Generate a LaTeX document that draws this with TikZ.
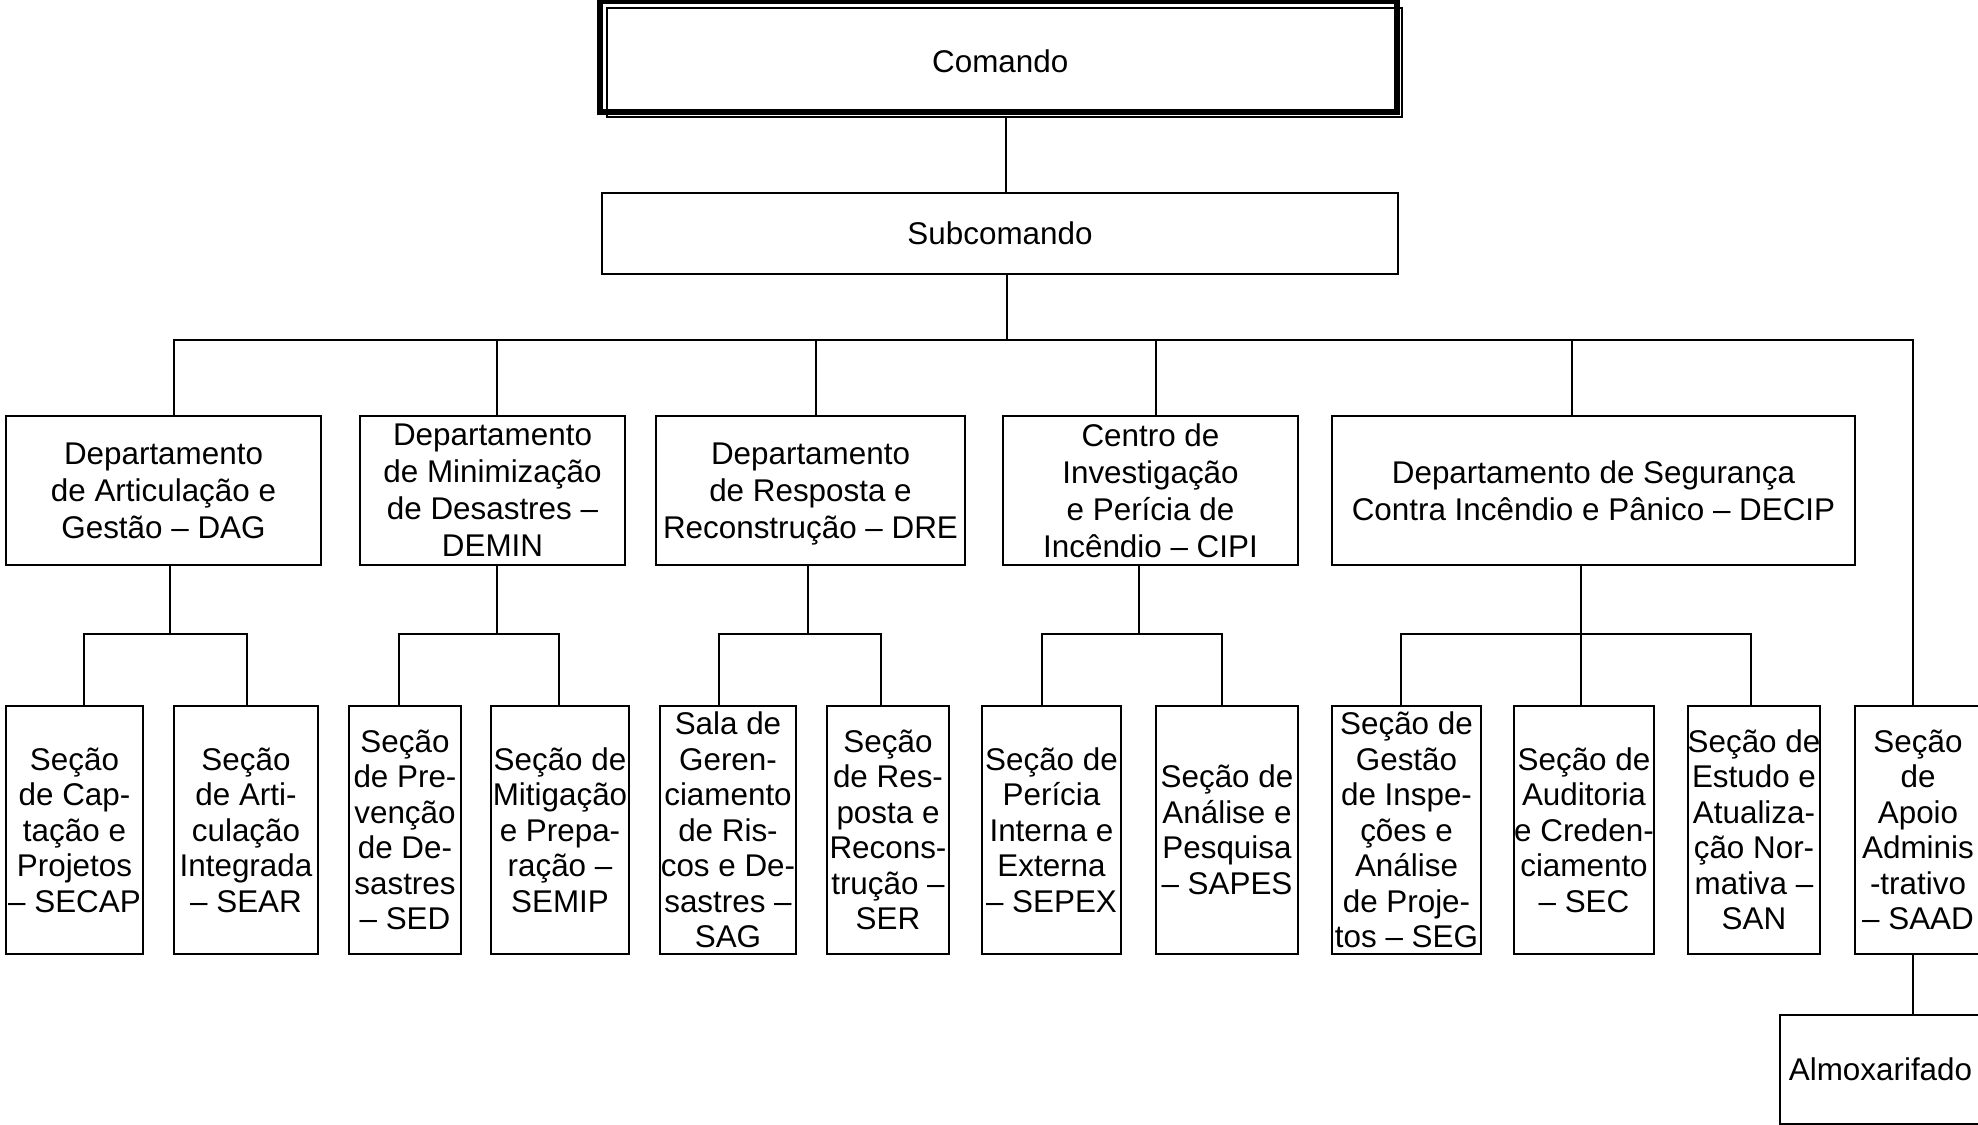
\documentclass[tikz,border=0pt]{standalone}
\usepackage{fontspec}
\setmainfont{Liberation Sans}
\newcommand\bx[7][box]{\node[#1, minimum width={(#5-#3)*0.5pt}, minimum height={(#6-#4)*0.5pt}] (#2) at ({(#3+#5)/2},{(#4+#6)/2}) {#7};}
\newcommand\nodepth[1]{\raisebox{0pt}[\height][0pt]{#1}}
\begin{document}
\begin{tikzpicture}[x=0.5pt,y=-0.5pt,
  box/.style={draw, line width=1pt, inner sep=0pt, align=center, font=\fontsize{15.7pt}{18.5pt}\selectfont},
  sbox/.style={box, font=\fontsize{15.7pt}{17.75pt}\selectfont},
  lbl/.style={inner sep=0pt, font=\fontsize{15.7pt}{18.5pt}\selectfont},
  link/.style={line width=1pt}]
\useasboundingbox (0,0) rectangle (1978,1125);
% top
\bx{comando}{606.7}{8.3}{1401.7}{117.3}{}
\draw[line width=3pt] ([shift={(-6,-6)}]comando.north west) rectangle ([shift={(-6,-6)}]comando.south east);
\node[lbl] (comandoT) at ([shift={(-4,-2)}]comando.center) {Comando};
\bx{sub}{602}{193}{1398}{274}{Subcomando}
% departments
\bx{dag}{6}{416}{321}{565}{Departamento\\de Articulação e\\Gestão – DAG}
\bx{demin}{360}{416}{625}{565}{Departamento\\de Minimização\\de Desastres –\\DEMIN}
\bx{dre}{656}{416}{965}{565}{Departamento\\de Resposta e\\\nodepth{Reconstrução – DRE}}
\bx{cipi}{1003}{416}{1298}{565}{Centro de\\Investigação\\e Perícia de\\Incêndio – CIPI}
\bx{decip}{1332}{416}{1855}{565}{Departamento de Segurança\\Contra Incêndio e Pânico – DECIP}
% sections
\bx[sbox]{secap}{6}{706}{143}{954}{Seção\\de Cap-\\tação e\\Projetos\\– SECAP}
\bx[sbox]{sear}{174}{706}{318}{954}{Seção\\de Arti-\\culação\\Integrada\\– SEAR}
\bx[sbox]{sed}{349}{706}{461}{954}{Seção\\de Pre-\\venção\\de De-\\sastres\\– SED}
\bx[sbox]{semip}{491}{706}{629}{954}{Seção de\\Mitigação\\e Prepa-\\ração –\\SEMIP}
\bx[sbox]{sag}{660}{706}{796}{954}{Sala de\\Geren-\\ciamento\\de Ris-\\cos e De-\\sastres –\\SAG}
\bx[sbox]{ser}{827}{706}{949}{954}{Seção\\de Res-\\posta e\\Recons-\\trução –\\SER}
\bx[sbox]{sepex}{982}{706}{1121}{954}{Seção de\\Perícia\\Interna e\\Externa\\– SEPEX}
\bx[sbox]{sapes}{1156}{706}{1298}{954}{Seção de\\Análise e\\Pesquisa\\– SAPES}
\bx[sbox]{seg}{1332}{706}{1481}{954}{Seção de\\Gestão\\de Inspe-\\ções e\\Análise\\de Proje-\\tos – SEG}
\bx[sbox]{sec}{1515}{706}{1653}{954}{Seção de\\Auditoria\\e Creden-\\ciamento\\– SEC}
\bx[sbox]{san}{1689}{706}{1819}{954}{Seção de\\Estudo e\\Atualiza-\\ção Nor-\\mativa –\\SAN}
\bx[sbox]{saad}{1855}{706}{1981}{954}{Seção\\de\\Apoio\\Adminis\\-trativo\\– SAAD}
\bx{almox}{1780}{1015}{1981}{1123.5}{Almoxarifado}
% connectors top
\coordinate (c1) at (1006,0);
\coordinate (bC) at (1007,340);
\draw[link] (comando.south -| c1) -- (sub.north -| c1);
\draw[link] (sub.south -| bC) -- (bC);
\coordinate (bL) at (174,340);
\coordinate (bR) at (1913,340);
\draw[link] (dag.north -| bL) -- (bL) -- (bR) -- (saad.north -| bR);
\foreach \n/\x in {demin/497, dre/816, cipi/1156, decip/1572}
  \draw[link] (\n.north -| \x,0) -- (\x,340);
% connectors lower
\draw[link] (dag.south -| 170,0) -- (170,634);
\draw[link] (secap.north -| 84,0) -- (84,634) -- (247,634) -- (sear.north -| 247,0);
\draw[link] (demin.south -| 497,0) -- (497,634);
\draw[link] (sed.north -| 399,0) -- (399,634) -- (559,634) -- (semip.north -| 559,0);
\draw[link] (dre.south -| 808,0) -- (808,634);
\draw[link] (sag.north -| 719,0) -- (719,634) -- (881,634) -- (ser.north -| 881,0);
\draw[link] (cipi.south -| 1139,0) -- (1139,634);
\draw[link] (sepex.north -| 1042,0) -- (1042,634) -- (1222,634) -- (sapes.north -| 1222,0);
\draw[link] (decip.south -| 1581,0) -- (sec.north -| 1581,0);
\draw[link] (seg.north -| 1401,0) -- (1401,634) -- (1751,634) -- (san.north -| 1751,0);
\draw[link] (saad.south -| 1913,0) -- (almox.north -| 1913,0);
\end{tikzpicture}
\end{document}
